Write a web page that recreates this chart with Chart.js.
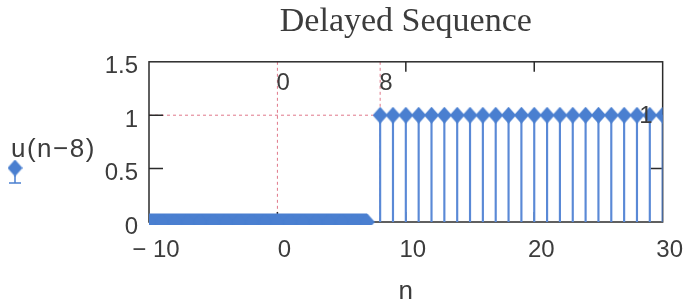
<!DOCTYPE html>
<html>
<head>
<meta charset="utf-8">
<script src="https://cdn.jsdelivr.net/npm/chart.js@4/dist/chart.umd.min.js"></script>
<style>
  html, body { margin: 0; padding: 0; background: #fff; }
</style>
</head>
<body>
<canvas id="seq" width="690" height="307"></canvas>
<script>
// data
const n = [-10, -9, -8, -7, -6, -5, -4, -3, -2, -1, 0, 1, 2, 3, 4, 5, 6, 7,
           8, 9, 10, 11, 12, 13, 14, 15, 16, 17, 18, 19, 20, 21, 22, 23, 24, 25, 26, 27, 28, 29, 30];
const u = [0, 0, 0, 0, 0, 0, 0, 0, 0, 0, 0, 0, 0, 0, 0, 0, 0, 0,
           1, 1, 1, 1, 1, 1, 1, 1, 1, 1, 1, 1, 1, 1, 1, 1, 1, 1, 1, 1, 1, 1, 1];
const xTicks = [-10, 0, 10, 20, 30];
const xTickLabels = ['\u2212 10', '0', '10', '20', '30'];
const yTicks = [0, 0.5, 1, 1.5];
const yTickLabels = ['0', '0.5', '1', '1.5'];
const markX = [0, 8];   // dashed markers, labelled on top
const markY = [1];      // dashed marker, labelled at the right
const titleText = 'Delayed Sequence';
const xTitle = 'n';
const yTitle = 'u(n\u22128)';

const blue = '#4a7fd0';
const stemCol = '#5a89d6';
const textCol = '#3c3c3c';
const pink = '#e0788a';
const sans = 'Liberation Sans';

// diamond marker, a bit taller than wide
const diamond = document.createElement('canvas');
diamond.width = 15;
diamond.height = 17;
{
    const d = diamond.getContext('2d');
    d.fillStyle = blue;
    d.beginPath();
    d.moveTo(7.5, 0);
    d.lineTo(15, 8.5);
    d.lineTo(7.5, 17);
    d.lineTo(0, 8.5);
    d.closePath();
    d.fill();
}

const pts = n.map((v, i) => ({ x: v, y: u[i] }));

const frame = {
    id: 'frame',
    beforeDatasetsDraw(chart) {
        const { ctx, chartArea: a, scales: { x, y } } = chart;
        ctx.save();
        ctx.strokeStyle = pink;
        ctx.lineWidth = 1;
        ctx.setLineDash([3, 3]);
        for (const v of markX) {
            const px = x.getPixelForValue(v);
            ctx.beginPath();
            ctx.moveTo(px, a.top);
            ctx.lineTo(px, a.bottom);
            ctx.stroke();
        }
        for (const v of markY) {
            const py = y.getPixelForValue(v);
            ctx.beginPath();
            ctx.moveTo(a.left, py);
            ctx.lineTo(a.right, py);
            ctx.stroke();
        }
        ctx.setLineDash([]);
        ctx.strokeStyle = '#2b2b2b';
        ctx.lineWidth = 1.5;
        ctx.strokeRect(a.left, a.top, a.width, a.height);
        // ticks point inwards
        ctx.beginPath();
        for (const v of xTicks.slice(1, -1)) {
            const px = x.getPixelForValue(v);
            ctx.moveTo(px, a.bottom);
            ctx.lineTo(px, a.bottom - 10);
            if (!markX.includes(v)) {
                ctx.moveTo(px, a.top);
                ctx.lineTo(px, a.top + 10);
            }
        }
        for (const v of yTicks.slice(1, -1)) {
            const py = y.getPixelForValue(v);
            ctx.moveTo(a.left, py);
            ctx.lineTo(a.left + 14, py);
            ctx.moveTo(a.right, py);
            ctx.lineTo(a.right - 12, py);
        }
        ctx.stroke();
        ctx.restore();
    },
    afterDatasetsDraw(chart) {
        const { ctx, chartArea: a, scales: { x, y } } = chart;
        ctx.save();
        ctx.fillStyle = textCol;
        ctx.font = '24px "' + sans + '"';
        ctx.textBaseline = 'alphabetic';
        ctx.textAlign = 'left';
        for (const v of markX) {
            ctx.fillText(String(v), x.getPixelForValue(v) - 1, a.top + 28);
        }
        ctx.textAlign = 'right';
        for (const v of markY) {
            ctx.fillText(String(v), a.right - 10, y.getPixelForValue(v) + 8);
        }
        // y axis name with its trace symbol
        ctx.textAlign = 'left';
        ctx.font = '26px "' + sans + '"';
        ctx.letterSpacing = '1.5px';
        ctx.fillText(yTitle, 11, 157);
        ctx.letterSpacing = '0px';
        ctx.drawImage(diamond, 15 - 7.5, 168 - 8.5);
        ctx.strokeStyle = blue;
        ctx.lineWidth = 1.5;
        ctx.beginPath();
        ctx.moveTo(15, 175);
        ctx.lineTo(15, 183);
        ctx.moveTo(9, 183);
        ctx.lineTo(21, 183);
        ctx.stroke();
        ctx.restore();
    }
};

new Chart(document.getElementById('seq'), {
    type: 'bar',
    data: {
        datasets: [{
            type: 'line',
            data: pts,
            order: 1,
            pointStyle: diamond,
            pointRadius: 8,
            showLine: true,
            borderWidth: 17,
            borderColor: blue,
            borderCapStyle: 'butt',
            segment: {
                borderColor: c => (c.p0.parsed.y === 0 && c.p1.parsed.y === 0) ? blue : 'rgba(0,0,0,0)'
            },
            clip: { left: 0, top: 12, right: 0, bottom: 3 }
        }, {
            type: 'bar',
            data: pts,
            order: 2,
            backgroundColor: stemCol,
            barThickness: 1.5,
            grouped: false
        }]
    },
    options: {
        responsive: false,
        devicePixelRatio: 1,
        animation: false,
        events: [],
        layout: { padding: { left: 0, right: 24, top: 0, bottom: 0 } },
        plugins: {
            legend: { display: false },
            tooltip: { enabled: false },
            title: {
                display: true,
                text: titleText,
                fullSize: false,
                color: textCol,
                font: { family: 'Liberation Serif', size: 34, weight: 'normal' },
                padding: { top: 2, bottom: 19 }
            }
        },
        scales: {
            x: {
                type: 'linear',
                min: -10,
                max: 30,
                offset: false,
                afterBuildTicks: s => { s.ticks = xTicks.map(v => ({ value: v })); },
                afterFit: s => { s.height = 85; },
                grid: { display: false, drawTicks: false },
                border: { display: false },
                ticks: {
                    callback: v => xTickLabels[xTicks.indexOf(v)],
                    color: textCol,
                    font: { family: sans, size: 24 },
                    padding: 14,
                    labelOffset: 7,
                    maxRotation: 0,
                    autoSkip: false
                },
                title: {
                    display: true,
                    text: xTitle,
                    color: textCol,
                    font: { family: sans, size: 26 },
                    padding: { top: 6, bottom: 0 }
                }
            },
            y: {
                min: 0,
                max: 1.5,
                afterBuildTicks: s => { s.ticks = yTicks.map(v => ({ value: v })); },
                afterFit: s => { s.width = 149; },
                grid: { display: false, drawTicks: false },
                border: { display: false },
                ticks: {
                    callback: v => yTickLabels[yTicks.indexOf(v)],
                    color: textCol,
                    font: { family: sans, size: 24 },
                    padding: 11,
                    labelOffset: 5
                }
            }
        }
    },
    plugins: [frame]
});
</script>
</body>
</html>
